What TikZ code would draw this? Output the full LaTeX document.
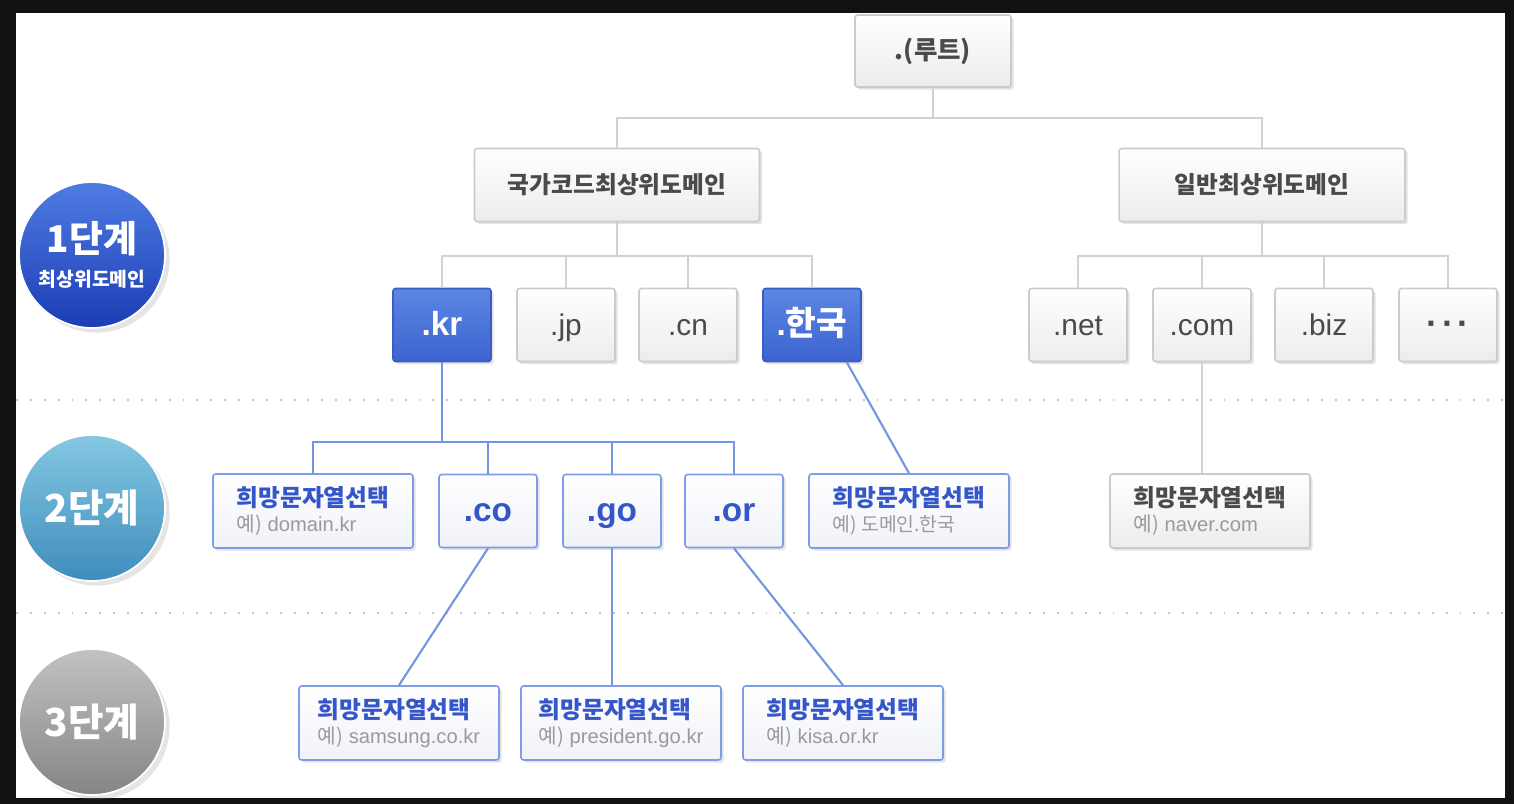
\documentclass[tikz,border=0pt]{standalone}
\usepackage{fontspec}
\setmainfont{Liberation Sans}
\newfontfamily\hg{Noto Sans CJK KR}
\usetikzlibrary{shadows}
\definecolor{rahmen}{HTML}{111111}
\definecolor{grrand}{HTML}{CBCBCB}
\definecolor{grfill}{HTML}{ECECEC}
\definecolor{grtext}{HTML}{4A4A4A}
\definecolor{grlin}{HTML}{D2D2D2}
\definecolor{blrand}{HTML}{3A5CC8}
\definecolor{blo}{HTML}{5B87E2}
\definecolor{blu}{HTML}{3D63D0}
\definecolor{lrand}{HTML}{7D9DE6}
\definecolor{lrfill}{HTML}{F0F2F8}
\definecolor{bltext}{HTML}{3556C8}
\definecolor{bllin}{HTML}{7396E2}
\definecolor{bsp}{HTML}{9A9A9A}
\definecolor{trgrau}{HTML}{C4C4C4}
\definecolor{stao}{HTML}{4F7CE3}
\definecolor{stau}{HTML}{1C3CB4}
\definecolor{stbo}{HTML}{84C8E2}
\definecolor{stbu}{HTML}{3F8CBD}
\definecolor{stco}{HTML}{C2C2C2}
\definecolor{stcu}{HTML}{858585}
\newcommand{\beisp}[1]{{\hg 예)} #1}
\tikzset{
  box/.style={rounded corners=1.5pt,line width=0.9pt,inner sep=0pt,align=center,
    drop shadow={opacity=0.22,shadow xshift=1.5pt,shadow yshift=-1.5pt}},
  grbox/.style={box,draw=grrand,top color=white,bottom color=grfill,text=grtext},
  blbox/.style={box,draw=blrand,top color=blo,bottom color=blu,text=white,
    font=\bfseries\fontsize{19}{20}\selectfont},
  lrbox/.style={box,draw=lrand,top color=white,bottom color=lrfill,text=bltext},
  tld/.style={minimum width=1.96cm,minimum height=1.46cm,text height=12.5pt,text depth=0pt},
  grtld/.style={grbox,tld,font=\fontsize{17}{18}\selectfont},
  bltld/.style={lrbox,tld,font=\bfseries\fontsize{19}{20}\selectfont},
  gruppe/.style={grbox,minimum height=1.46cm,font=\hg\bfseries\fontsize{13.5}{15}\selectfont},
  wunsch/.style={lrbox,minimum width=4cm,minimum height=1.48cm,align=left},
  stufe/.style={circle,minimum size=2.92cm,inner sep=0pt,draw=white,line width=1pt,
    text=white,align=center,drop shadow={opacity=0.2}},
  grlinie/.style={grlin,line width=1pt},
  bllinie/.style={bllin,line width=1.2pt},
  trenn/.style={trgrau,line width=1.1pt,dash pattern=on 1.1pt off 6.8pt},
}

\begin{document}
\begin{tikzpicture}[x=0.02cm,y=-0.02cm]
  % --- Rahmen ---
  \fill[rahmen] (0,0) rectangle (1514,804);
  \fill[white] (16,13) rectangle (1505,798);
  \draw[trenn] (16,400) -- (1505,400);
  \draw[trenn] (16,613) -- (1505,613);
  % --- Stufen ---
  \node[stufe,top color=stao,bottom color=stau] (s1) at (92,255)
    {{\hg\bfseries\fontsize{21}{23}\selectfont 1단계}\\[7pt]
     {\hg\bfseries\fontsize{11}{12}\selectfont 최상위도메인}};
  \node[stufe,top color=stbo,bottom color=stbu] (s2) at (92,508)
    {\hg\bfseries\fontsize{22}{24}\selectfont 2단계};
  \node[stufe,top color=stco,bottom color=stcu] (s3) at (92,722)
    {\hg\bfseries\fontsize{22}{24}\selectfont 3단계};
  % --- Wurzel und TLD-Gruppen ---
  \node[gruppe,minimum width=3.12cm,minimum height=1.44cm,font=\hg\bfseries\fontsize{14.5}{16}\selectfont] (root) at (933,51) {.(루트)};
  \node[gruppe,minimum width=5.7cm] (cctld) at (617,185) {국가코드최상위도메인};
  \node[gruppe,minimum width=5.72cm] (gtld) at (1262,185) {일반최상위도메인};
  % --- 1. Stufe ---
  \node[blbox,tld] (kr) at (442,325) {.kr};
  \node[grtld] (jp) at (566,325) {.jp};
  \node[grtld] (cn) at (688,325) {.cn};
  \node[blbox,tld] (hanguk) at (812,325) {.{\hg 한국}};
  \node[grtld] (net) at (1078,325) {.net};
  \node[grtld] (com) at (1202,325) {.com};
  \node[grtld] (biz) at (1324,325) {.biz};
  \node[grtld,font=\bfseries\fontsize{20}{20}\selectfont] (etc) at (1448,325) {·\hspace{2pt}·\hspace{2pt}·};
  % --- 2. Stufe ---
  \node[wunsch] (w1) at (313,511)
    {{\hg\bfseries\fontsize{13.5}{15}\selectfont 희망문자열선택}\\[2pt]
     {\color{bsp}\fontsize{11.5}{13}\selectfont\beisp{domain.kr}}};
  \node[bltld] (co) at (488,511) {.co};
  \node[bltld] (go) at (612,511) {.go};
  \node[bltld] (or) at (734,511) {.or};
  \node[wunsch] (w2) at (909,511)
    {{\hg\bfseries\fontsize{13.5}{15}\selectfont 희망문자열선택}\\[2pt]
     {\color{bsp}\hg\fontsize{11}{13}\selectfont 예) 도메인.한국}};
  \node[grbox,minimum width=4cm,minimum height=1.48cm,align=left] (w3) at (1210,511)
    {{\hg\bfseries\fontsize{13.5}{15}\selectfont 희망문자열선택}\\[2pt]
     {\color{bsp}\fontsize{11.5}{13}\selectfont\beisp{naver.com}}};
  % --- 3. Stufe ---
  \node[wunsch] (w4) at (399,723)
    {{\hg\bfseries\fontsize{13.5}{15}\selectfont 희망문자열선택}\\[2pt]
     {\color{bsp}\fontsize{11.5}{13}\selectfont\beisp{samsung.co.kr}}};
  \node[wunsch] (w5) at (621,723)
    {{\hg\bfseries\fontsize{13.5}{15}\selectfont 희망문자열선택}\\[2pt]
     {\color{bsp}\fontsize{11.5}{13}\selectfont\beisp{president.go.kr}}};
  \node[wunsch] (w6) at (843,723)
    {{\hg\bfseries\fontsize{13.5}{15}\selectfont 희망문자열선택}\\[2pt]
     {\color{bsp}\fontsize{11.5}{13}\selectfont\beisp{kisa.or.kr}}};
  % --- Verbindungen ---
  \draw[grlinie] (root.south) -- ++(0,30) coordinate (b0);
  \draw[grlinie] (b0) -| (cctld.north);
  \draw[grlinie] (b0) -| (gtld.north);
  \draw[grlinie] (cctld.south) -- ++(0,34) coordinate (b1);
  \foreach \n in {kr,jp,cn,hanguk} \draw[grlinie] (b1) -| (\n.north);
  \draw[grlinie] (gtld.south) -- ++(0,34) coordinate (b2);
  \foreach \n in {net,com,biz,etc} \draw[grlinie] (b2) -| (\n.north);
  \draw[bllinie] (kr.south) -- ++(0,80) coordinate (b3);
  \foreach \n in {w1,co,go,or} \draw[bllinie] (b3) -| (\n.north);
  \draw[bllinie] (hanguk.-47) -- (w2.north);
  \draw[grlinie] (com.south) -- (com.south |- w3.north);
  \draw[bllinie] (co.south) -- (w4.north);
  \draw[bllinie] (go.south) -- (go.south |- w5.north);
  \draw[bllinie] (or.south) -- (w6.north);
\end{tikzpicture}
\end{document}
